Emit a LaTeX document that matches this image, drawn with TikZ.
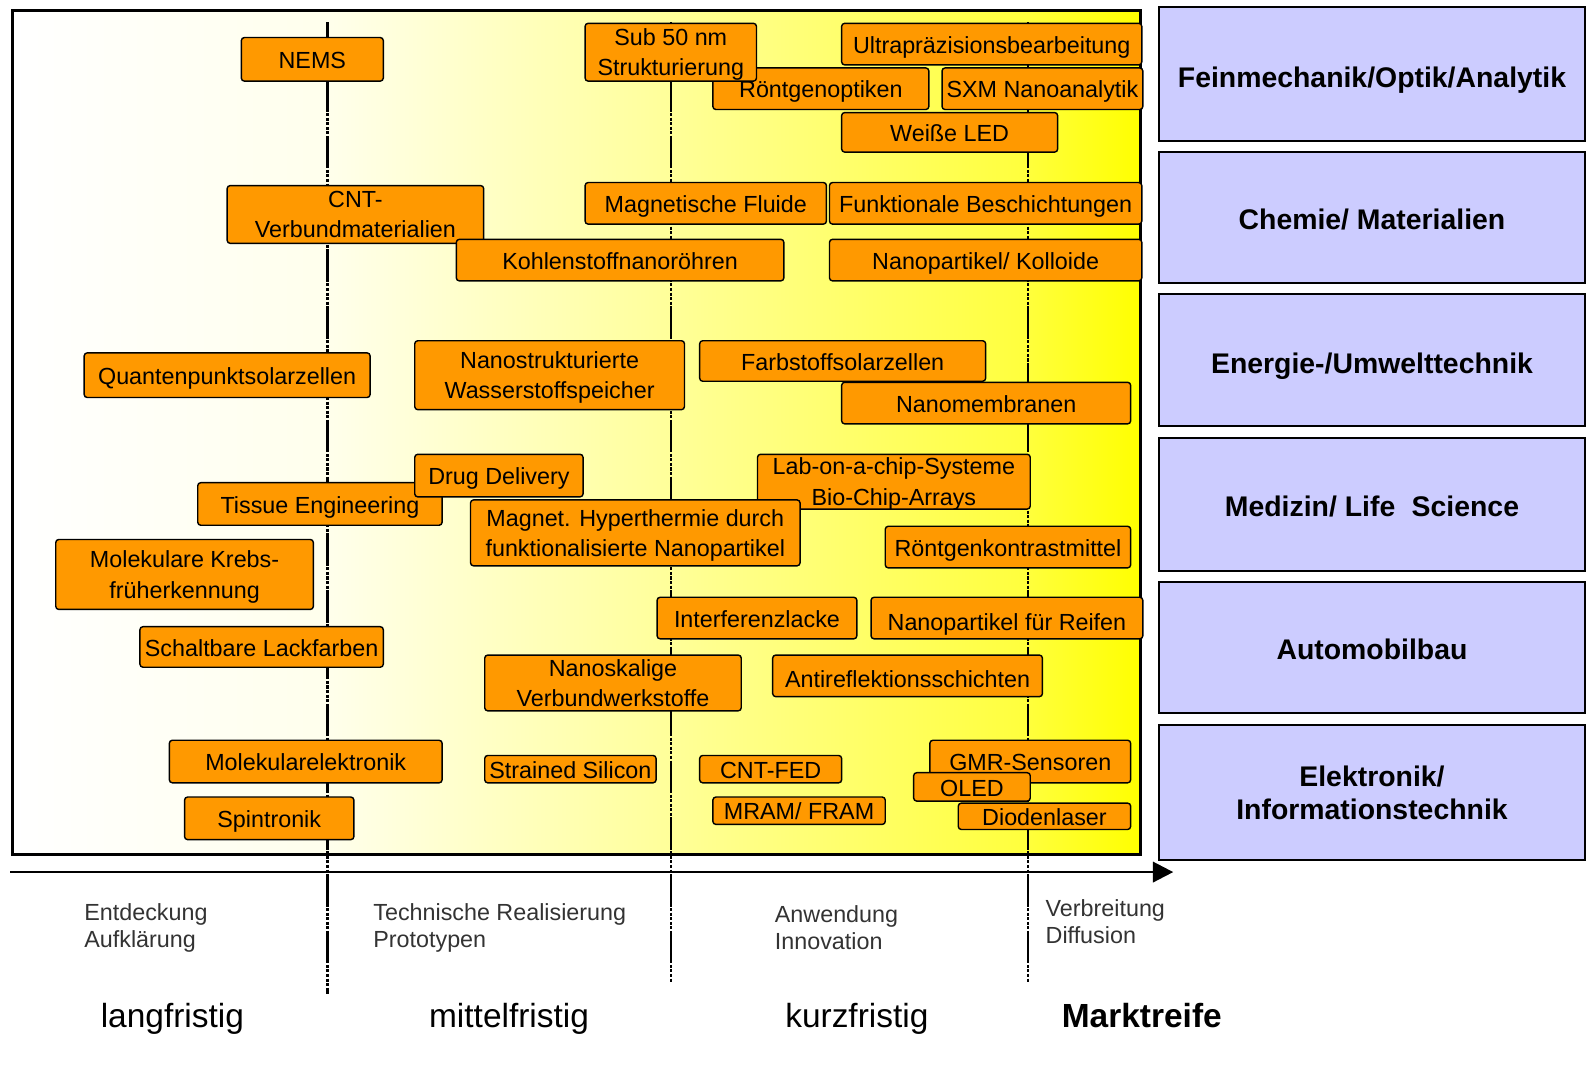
\documentclass[tikz,border=0pt]{standalone}
\usepackage{fontspec}
\setmainfont{Liberation Sans}
\usetikzlibrary{arrows.meta}
\definecolor{boxorange}{HTML}{FF9900}
\definecolor{lav}{HTML}{CCCCFF}
\definecolor{ylA}{HTML}{FFFFEC}
\definecolor{ylB}{HTML}{FFFF99}
\definecolor{ylC}{HTML}{FFFF3C}
\definecolor{ylD}{HTML}{FFFF00}
\definecolor{txtgray}{HTML}{333333}
% single-line orange box (optional: text height, shifts text down when larger)
\newcommand\ob[7][18pt]{\node[obox, text height=#1, minimum width={(#5-#3)*1pt}, minimum height={(#6-#4)*1pt}] (#2) at ({(#3+#5)/2},{(#4+#6)/2}) {#7};}
% multi-line orange box
\newcommand\obm[6]{\node[obox, minimum width={(#4-#2)*1pt}, minimum height={(#5-#3)*1pt}] (#1) at ({(#2+#4)/2},{(#3+#5)/2}) {#6};}
\newcommand\lb[7][24pt]{\node[lbox, text height=#1, minimum width={(#5-#3)*1pt}, minimum height={(#6-#4)*1pt}] (#2) at ({(#3+#5)/2},{(#4+#6)/2}) {#7};}
\newcommand\lbm[6]{\node[lbox, minimum width={(#4-#2)*1pt}, minimum height={(#5-#3)*1pt}] (#1) at ({(#2+#4)/2},{(#3+#5)/2+1}) {#6};}
\begin{document}
\begin{tikzpicture}[x=1pt,y=-1pt,
  obox/.style={draw=black, line width=1.4pt, fill=boxorange, rounded corners=3pt, inner sep=0pt, text depth=0pt, align=center, font=\fontsize{23}{30}\selectfont},
  lbox/.style={draw=black, line width=2.6pt, fill=lav, inner sep=0pt, text depth=0pt, align=center, font=\fontsize{28}{33}\selectfont\bfseries},
  ddline/.style={line width=2.3pt, dash pattern=on 32pt off 1.5pt on 3pt off 1.5pt on 3pt off 1.5pt on 3pt off 1.5pt on 3pt off 1.5pt on 3pt off 1.5pt},
  phase/.style={anchor=west, inner sep=0pt, align=left, text=txtgray, font=\fontsize{23}{27}\selectfont},
  term/.style={inner sep=0pt, font=\fontsize{33}{36}\selectfont}]
\useasboundingbox (0,0) rectangle (1568,1057);
\fill[white] (0,0) rectangle (1568,1057);
% background gradient
\shade[left color=white, right color=ylA] (12,10) rectangle (323,843);
\shade[left color=ylA, right color=ylB] (323,10) rectangle (662,843);
\shade[left color=ylB, right color=ylC] (662,10) rectangle (1014,843);
\shade[left color=ylC, right color=ylD] (1014,10) rectangle (1125,843);
\draw[line width=3pt] (12,10) rectangle (1125,843);
% phase lines
\coordinate (l1t) at (323,22); \coordinate (l1b) at (323,980);
\coordinate (l2t) at (662,22); \coordinate (l2b) at (662,968);
\coordinate (l3t) at (1014,22); \coordinate (l3b) at (1014,968);
\draw[ddline] (l1t) -- (l1b);
\draw[ddline] (l2t) -- (l2b);
\draw[ddline] (l3t) -- (l3b);
% time axis
\coordinate (axs) at (10,860); \coordinate (axe) at (1157,860);
\draw[line width=2.6pt, -{Triangle[length=20pt,width=20pt]}] (axs) -- (axe);
% orange boxes
\ob{nems}{238}{37}{378}{80}{NEMS}
\ob{roent}{703}{67}{916}{108}{Röntgenoptiken}
\obm{sub}{577}{23}{746}{80}{Sub 50 nm\\Strukturierung}
\ob{ultra}{830}{23}{1126}{64}{Ultrapräzisionsbearbeitung}
\ob{sxm}{929}{67}{1127}{108}{SXM Nanoanalytik}
\ob{led}{830}{111}{1043}{150}{Weiße LED}
\obm{cnt}{224}{183}{477}{240}{CNT-\\Verbundmaterialien}
\ob{magf}{577}{180}{815}{221}{Magnetische Fluide}
\ob{funk}{818}{180}{1126}{221}{Funktionale Beschichtungen}
\ob{kohl}{450}{236}{773}{277}{Kohlenstoffnanoröhren}
\ob{kollo}{818}{236}{1126}{277}{Nanopartikel/ Kolloide}
\ob{quant}{83}{348}{365}{392}{Quantenpunktsolarzellen}
\obm{wass}{409}{336}{675}{404}{Nanostrukturierte\\Wasserstoffspeicher}
\ob{farb}{690}{336}{972}{376}{Farbstoffsolarzellen}
\ob{memb}{830}{377}{1115}{418}{Nanomembranen}
\ob{tissue}{195}{476}{436}{518}{Tissue Engineering}
\ob{drug}{409}{448}{575}{490}{Drug Delivery}
\obm{lab}{747}{448}{1016}{502}{Lab-on-a-chip-Systeme\\Bio-Chip-Arrays}
\obm{magn}{464}{493}{789}{558}{Magnet. Hyperthermie durch\\funktionalisierte Nanopartikel}
\ob{kontr}{873}{519}{1115}{560}{Röntgenkontrastmittel}
\obm{krebs}{55}{532}{309}{601}{Molekulare Krebs-\\früherkennung}
\ob{interf}{648}{589}{845}{630}{Interferenzlacke}
\ob[25.5pt]{reifen}{859}{589}{1127}{630}{Nanopartikel für Reifen}
\ob{lack}{138}{618}{378}{658}{Schaltbare Lackfarben}
\obm{verbw}{478}{646}{731}{701}{Nanoskalige\\Verbundwerkstoffe}
\ob[23.5pt]{antir}{762}{646}{1028}{687}{Antireflektionsschichten}
\ob{molel}{167}{730}{436}{772}{Molekularelektronik}
\ob{strain}{478}{745}{647}{772}{Strained Silicon}
\ob{cntfed}{690}{745}{830}{772}{CNT-FED}
\ob{gmr}{917}{730}{1115}{772}{GMR-Sensoren}
\ob{diode}{945}{792}{1115}{818}{Diodenlaser}
\ob{oled}{901}{762}{1016}{790}{OLED}
\ob{mram}{703}{786}{873}{813}{MRAM/ FRAM}
\ob{spin}{182}{786}{349}{828}{Spintronik}
% application fields
\lb[26pt]{fein}{1143}{7}{1563}{139}{Feinmechanik/Optik/Analytik}
\lb{chem}{1143}{150}{1563}{279}{Chemie/ Materialien}
\lb[27pt]{energ}{1143}{290}{1563}{420}{Energie-/Umwelttechnik}
\lb{med}{1143}{432}{1563}{563}{Medizin/ Life\hspace{0.3em} Science}
\lb{auto}{1143}{574}{1563}{703}{Automobilbau}
\lbm{elek}{1143}{714}{1563}{847}{Elektronik/\\Informationstechnik}
% phase labels
\node[phase] (ph1) at (83,915) {Entdeckung\\Aufklärung};
\node[phase] (ph2) at (368,915) {Technische Realisierung\\Prototypen};
\node[phase] (ph3) at (764,915) {Anwendung\\Innovation};
\node[phase] (ph4) at (1031,909) {Verbreitung\\Diffusion};
\node[term] (t1) at (170,1005) {langfristig};
\node[term] (t2) at (502,1005) {mittelfristig};
\node[term] (t3) at (845,1005) {kurzfristig};
\node[term, font=\fontsize{33}{36}\selectfont\bfseries] (t4) at (1126,1001) {Marktreife};
\end{tikzpicture}
\end{document}
